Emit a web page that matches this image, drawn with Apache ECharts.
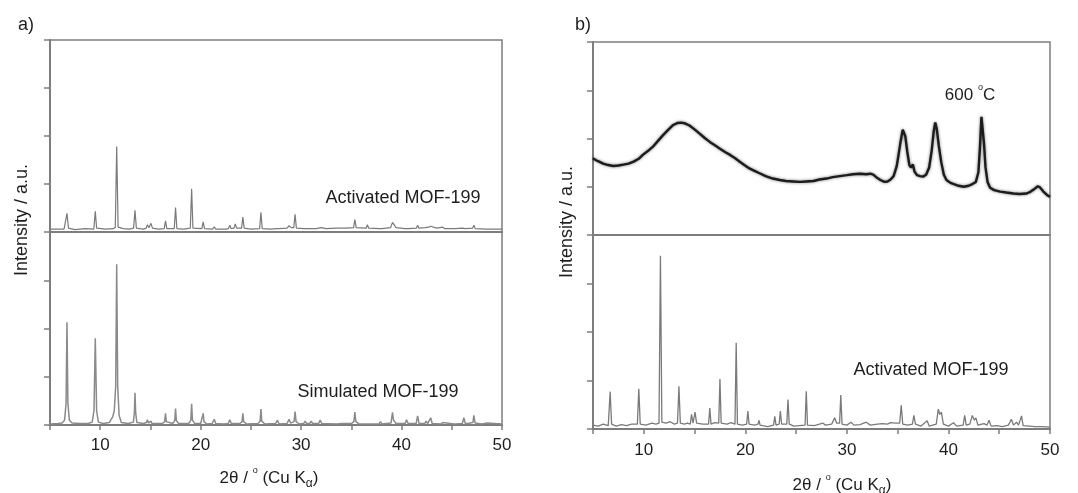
<!DOCTYPE html>
<html><head><meta charset="utf-8">
<script src="https://cdn.jsdelivr.net/npm/echarts@6/dist/echarts.min.js"></script>
<style>html,body{margin:0;padding:0;background:#fff}#c{width:1078px;height:493px}</style>
</head><body><div id="c"></div>
<script>
// x tick labels (2θ)
const xTickLabels = [10, 20, 30, 40, 50];

// a) upper: Activated MOF-199 ([2θ, intensity])
const activatedA = [[5,0.06],[6.4,0.06],[6.54,0.08],[6.69,0.39],[6.84,0.08],[7.5,0.05],[8.5,0.07],[9.36,0.06],[9.39,0.08],[9.51,0.43],[9.64,0.08],[10.5,0.06],[11.3,0.07],[11.5,0.1],[11.64,1.78],[11.78,0.1],[12.3,0.07],[12.9,0.06],[13.32,0.08],[13.46,0.45],[13.6,0.08],[14.3,0.06],[14.57,0.08],[14.7,0.15],[14.85,0.09],[15.05,0.18],[15.2,0.08],[15.8,0.06],[16.37,0.07],[16.5,0.23],[16.63,0.07],[17.37,0.07],[17.5,0.51],[17.63,0.07],[18.3,0.06],[18.97,0.08],[19.1,0.9],[19.23,0.08],[20.12,0.07],[20.25,0.21],[20.38,0.07],[21.2,0.06],[21.35,0.11],[21.5,0.06],[22.5,0.06],[22.77,0.07],[22.9,0.14],[23.03,0.07],[23.32,0.08],[23.45,0.17],[23.58,0.08],[24.07,0.08],[24.2,0.31],[24.33,0.08],[25.0,0.06],[25.87,0.07],[26.0,0.41],[26.13,0.07],[27.0,0.06],[27.52,0.07],[27.65,0.1],[27.78,0.07],[28.6,0.08],[28.8,0.13],[29.0,0.09],[29.27,0.09],[29.4,0.37],[29.53,0.08],[30.27,0.07],[30.4,0.1],[30.53,0.07],[31.5,0.07],[32.0,0.09],[32.5,0.07],[33.5,0.08],[34.5,0.08],[35.22,0.09],[35.35,0.26],[35.48,0.09],[36.47,0.08],[36.6,0.15],[36.73,0.08],[37.77,0.07],[37.9,0.1],[38.03,0.07],[38.9,0.09],[39.1,0.2],[39.26,0.18],[39.45,0.09],[40.37,0.07],[40.5,0.1],[40.63,0.07],[41.47,0.08],[41.6,0.14],[41.73,0.08],[42.35,0.09],[42.5,0.13],[42.7,0.1],[42.9,0.12],[43.05,0.08],[43.5,0.08],[44.1,0.1],[44.3,0.07],[45.3,0.07],[46.07,0.08],[46.2,0.12],[46.33,0.07],[47.07,0.08],[47.2,0.14],[47.33,0.07],[48.5,0.06],[50,0.06]];

// a) lower: Simulated MOF-199
const simulatedA = [[5,0.02],[5.8,0.03],[6.2,0.04],[6.45,0.1],[6.6,0.45],[6.69,2.13],[6.78,0.45],[6.93,0.1],[7.2,0.04],[8.0,0.03],[8.8,0.03],[9.2,0.06],[9.38,0.3],[9.51,1.80],[9.64,0.3],[9.82,0.06],[10.3,0.03],[10.9,0.05],[11.1,0.12],[11.25,0.17],[11.4,0.3],[11.54,0.8],[11.64,3.33],[11.74,0.8],[11.88,0.2],[12.1,0.05],[12.8,0.03],[13.3,0.06],[13.4,0.25],[13.46,0.67],[13.53,0.25],[13.65,0.05],[14.3,0.03],[14.6,0.05],[14.7,0.11],[14.8,0.04],[14.95,0.05],[15.05,0.08],[15.15,0.03],[16.2,0.03],[16.42,0.07],[16.5,0.24],[16.58,0.07],[17.2,0.03],[17.42,0.09],[17.5,0.34],[17.58,0.09],[17.8,0.03],[18.8,0.03],[19.02,0.1],[19.1,0.44],[19.18,0.1],[19.4,0.03],[20.0,0.03],[20.17,0.07],[20.25,0.24],[20.33,0.07],[20.6,0.02],[21.15,0.03],[21.35,0.12],[21.5,0.03],[22.3,0.02],[22.75,0.03],[22.9,0.11],[23.05,0.03],[23.9,0.03],[24.12,0.07],[24.2,0.24],[24.28,0.07],[24.6,0.02],[25.7,0.03],[25.92,0.08],[26.0,0.33],[26.08,0.08],[26.4,0.02],[27.45,0.03],[27.65,0.1],[27.8,0.02],[28.6,0.03],[28.8,0.12],[28.95,0.04],[29.3,0.07],[29.4,0.28],[29.5,0.07],[29.8,0.02],[30.25,0.03],[30.4,0.08],[30.55,0.03],[30.85,0.03],[31.0,0.08],[31.15,0.03],[31.75,0.03],[31.9,0.1],[32.05,0.03],[33.5,0.02],[34.05,0.03],[34.2,0.06],[34.35,0.03],[34.7,0.03],[34.85,0.06],[35.0,0.03],[35.25,0.07],[35.35,0.27],[35.45,0.07],[35.8,0.02],[36.45,0.02],[36.6,0.05],[36.75,0.02],[37.75,0.02],[37.9,0.07],[38.05,0.02],[38.95,0.04],[39.1,0.26],[39.2,0.1],[39.3,0.12],[39.45,0.03],[40.35,0.03],[40.5,0.11],[40.65,0.03],[41.45,0.03],[41.6,0.19],[41.75,0.03],[42.3,0.03],[42.45,0.08],[42.6,0.03],[42.75,0.04],[42.9,0.15],[43.05,0.03],[43.9,0.02],[44.1,0.05],[44.25,0.02],[45.2,0.02],[45.3,0.03],[45.4,0.02],[46.05,0.03],[46.2,0.15],[46.35,0.03],[46.6,0.03],[46.7,0.07],[46.85,0.04],[47.1,0.05],[47.2,0.2],[47.32,0.04],[48.0,0.02],[48.5,0.04],[48.6,0.02],[50,0.02]];

// b) upper: after heating to 600 °C
const heated600B = [[5.0,1.59],[5.3,1.55],[5.6,1.52],[6.0,1.48],[6.5,1.45],[7.0,1.43],[7.5,1.44],[8.0,1.46],[8.5,1.48],[9.0,1.52],[9.5,1.58],[9.9,1.66],[10.4,1.74],[10.9,1.83],[11.4,1.95],[11.9,2.07],[12.4,2.18],[12.9,2.28],[13.3,2.32],[13.7,2.33],[14.1,2.31],[14.5,2.27],[15.0,2.19],[15.5,2.10],[16.0,2.01],[16.5,1.93],[17.0,1.86],[17.5,1.79],[18.0,1.72],[18.5,1.66],[19.0,1.59],[19.45,1.52],[19.9,1.45],[20.4,1.38],[20.9,1.33],[21.4,1.28],[22.0,1.22],[22.7,1.17],[23.4,1.14],[24.0,1.12],[24.7,1.11],[25.4,1.10],[26.0,1.11],[26.7,1.12],[27.3,1.15],[28.0,1.17],[28.6,1.2],[29.3,1.22],[30.0,1.24],[30.6,1.26],[31.3,1.27],[31.9,1.26],[32.3,1.27],[32.6,1.25],[33.0,1.18],[33.3,1.14],[33.7,1.1],[34.0,1.11],[34.3,1.15],[34.6,1.22],[34.9,1.42],[35.1,1.68],[35.3,1.95],[35.5,2.18],[35.6,2.22],[35.75,2.05],[35.95,1.72],[36.15,1.45],[36.3,1.40],[36.5,1.46],[36.65,1.32],[36.9,1.24],[37.2,1.22],[37.5,1.21],[37.8,1.25],[38.1,1.4],[38.35,1.75],[38.55,2.15],[38.7,2.33],[38.85,2.2],[39.05,1.85],[39.3,1.5],[39.55,1.25],[39.8,1.14],[40.2,1.08],[40.6,1.05],[41.0,1.02],[41.5,1.0],[42.0,1.02],[42.4,1.06],[42.7,1.1],[42.95,1.3],[43.1,1.8],[43.25,2.45],[43.35,2.48],[43.5,1.9],[43.65,1.4],[43.85,1.1],[44.1,0.98],[44.5,0.93],[45.1,0.9],[45.7,0.88],[46.4,0.86],[47.0,0.85],[47.7,0.86],[48.1,0.9],[48.5,0.96],[48.8,1.01],[49.0,0.99],[49.35,0.9],[49.7,0.83],[50,0.79]];

// b) lower: Activated MOF-199
const activatedB = [[5,0.08],[5.5,0.06],[6.0,0.1],[6.5,0.07],[6.55,0.1],[6.69,0.77],[6.83,0.1],[7.3,0.06],[7.8,0.09],[8.3,0.07],[8.8,0.1],[9.37,0.1],[9.51,0.83],[9.65,0.1],[10.2,0.08],[10.8,0.12],[11.2,0.1],[11.5,0.12],[11.64,3.57],[11.78,0.14],[12.2,0.12],[12.6,0.15],[13.0,0.1],[13.32,0.12],[13.46,0.88],[13.6,0.12],[14.0,0.1],[14.3,0.12],[14.58,0.1],[14.7,0.30],[14.85,0.12],[14.95,0.14],[15.05,0.35],[15.2,0.12],[15.8,0.1],[16.38,0.1],[16.5,0.43],[16.62,0.1],[17.0,0.13],[17.38,0.12],[17.5,1.03],[17.62,0.12],[18.2,0.1],[18.6,0.13],[18.98,0.1],[19.1,1.78],[19.22,0.1],[19.7,0.08],[20.13,0.1],[20.25,0.37],[20.37,0.1],[20.9,0.08],[21.25,0.1],[21.35,0.18],[21.45,0.08],[22.2,0.05],[22.78,0.08],[22.9,0.26],[23.02,0.08],[23.33,0.1],[23.45,0.37],[23.57,0.1],[24.08,0.1],[24.2,0.61],[24.32,0.1],[24.8,0.06],[25.3,0.07],[25.88,0.08],[26.0,0.78],[26.12,0.08],[26.8,0.07],[27.3,0.1],[27.65,0.12],[27.9,0.08],[28.5,0.1],[28.8,0.23],[29.0,0.12],[29.28,0.12],[29.4,0.70],[29.52,0.1],[30.0,0.08],[30.4,0.14],[30.7,0.08],[31.3,0.09],[31.9,0.14],[32.3,0.08],[33.0,0.1],[33.5,0.11],[34.0,0.1],[34.3,0.13],[34.8,0.12],[35.2,0.12],[35.35,0.49],[35.5,0.1],[36.0,0.08],[36.45,0.1],[36.6,0.28],[36.75,0.1],[37.3,0.06],[37.9,0.17],[38.1,0.06],[38.8,0.1],[39.0,0.41],[39.15,0.3],[39.3,0.35],[39.5,0.1],[40.0,0.06],[40.5,0.13],[40.8,0.06],[41.45,0.08],[41.6,0.28],[41.75,0.08],[42.1,0.1],[42.35,0.28],[42.55,0.18],[42.7,0.23],[42.9,0.08],[43.5,0.11],[43.8,0.08],[44.0,0.18],[44.2,0.06],[44.8,0.07],[45.3,0.05],[45.9,0.08],[46.2,0.2],[46.4,0.08],[46.7,0.14],[46.9,0.08],[47.05,0.1],[47.2,0.27],[47.35,0.07],[48.0,0.06],[48.5,0.05],[49.2,0.05],[50,0.04]];

const FONT = '"Liberation Sans", Arial, Helvetica, sans-serif';
const AX = '#7d7d7d';
const TXT = '#1e1e1e';
const grids = [
  {left: 50, top: 40, width: 452, height: 192},
  {left: 50, top: 232, width: 452, height: 193},
  {left: 593, top: 42, width: 457, height: 193},
  {left: 593, top: 235, width: 457, height: 194}
];
const isLower = [false, true, false, true];
const labelMargin = [12, 12, 13, 13];
const seriesData = [activatedA, simulatedA, heated600B, activatedB];
const seriesStyle = [
  {color: '#7a7a7a', width: 1.2},
  {color: '#8a8a8a', width: 1.5},
  {color: '#1c1c1c', width: 2.4, shadowBlur: 3, shadowColor: 'rgba(0,0,0,0.55)'},
  {color: '#7a7a7a', width: 1.3}
];

const chart = echarts.init(document.getElementById('c'), null, {renderer: 'canvas'});
const supRich = {
  n: {fontSize: 17, fontFamily: FONT, fill: TXT, lineHeight: 24},
  s: {fontSize: 9, fontFamily: FONT, fill: TXT, lineHeight: 11, verticalAlign: 'top'},
  b: {fontSize: 12, fontFamily: FONT, fill: TXT, lineHeight: 12, verticalAlign: 'bottom'}
};
const option = {
  animation: false,
  backgroundColor: '#fff',
  grid: grids.map(g => Object.assign({show: true, borderColor: AX, borderWidth: 1.5, containLabel: false}, g)),
  xAxis: grids.map((g, i) => ({
    type: 'value', gridIndex: i, min: 5, max: 50, interval: 5,
    axisLine: {show: true, onZero: false, lineStyle: {color: AX, width: 2}},
    axisTick: {show: isLower[i], inside: false, length: 5, lineStyle: {color: AX, width: 1.5}},
    axisLabel: {show: isLower[i], margin: labelMargin[i], fontSize: 17, color: TXT, fontFamily: FONT,
      formatter: v => xTickLabels.indexOf(v) >= 0 ? String(v) : ''},
    splitLine: {show: false}
  })),
  yAxis: grids.map((g, i) => ({
    type: 'value', gridIndex: i, min: 0, max: 4, interval: 1,
    axisLine: {show: true, onZero: false, lineStyle: {color: AX, width: 2}},
    axisTick: {show: true, inside: false, length: 6, lineStyle: {color: AX, width: 1.5}},
    axisLabel: {show: false},
    splitLine: {show: false}
  })),
  series: seriesData.map((d, i) => ({
    type: 'line', xAxisIndex: i, yAxisIndex: i, data: d,
    symbol: 'none', showSymbol: false, silent: true,
    lineStyle: seriesStyle[i], clip: true
  })),
  graphic: [
    {type: 'text', x: 18, y: 25, style: {text: 'a)', fontSize: 18, fontFamily: FONT, fill: TXT, verticalAlign: 'middle'}},
    {type: 'text', x: 575, y: 25, style: {text: 'b)', fontSize: 18, fontFamily: FONT, fill: TXT, verticalAlign: 'middle'}},
    {type: 'text', x: 22, y: 220, rotation: Math.PI / 2, style: {text: 'Intensity / a.u.', fontSize: 18, fontFamily: FONT, fill: TXT, align: 'center', verticalAlign: 'middle'}},
    {type: 'text', x: 567, y: 222, rotation: Math.PI / 2, style: {text: 'Intensity / a.u.', fontSize: 18, fontFamily: FONT, fill: TXT, align: 'center', verticalAlign: 'middle'}},
    {type: 'text', x: 403, y: 198, style: {text: 'Activated MOF-199', fontSize: 18, fontFamily: FONT, fill: TXT, align: 'center', verticalAlign: 'middle'}},
    {type: 'text', x: 378, y: 392, style: {text: 'Simulated MOF-199', fontSize: 18, fontFamily: FONT, fill: TXT, align: 'center', verticalAlign: 'middle'}},
    {type: 'text', x: 931, y: 370, style: {text: 'Activated MOF-199', fontSize: 18, fontFamily: FONT, fill: TXT, align: 'center', verticalAlign: 'middle'}},
    {type: 'text', x: 970, y: 95, style: {text: '{n|600 }{s|o}{n|C}', align: 'center', verticalAlign: 'middle', rich: supRich}},
    {type: 'text', x: 269, y: 478, style: {text: '{n|2θ / }{s|o}{n| (Cu K}{b|α}{n|)}', align: 'center', verticalAlign: 'middle', rich: supRich}},
    {type: 'text', x: 842, y: 485, style: {text: '{n|2θ / }{s|o}{n| (Cu K}{b|α}{n|)}', align: 'center', verticalAlign: 'middle', rich: supRich}}
  ]
};
chart.setOption(option);
</script>
</body></html>
